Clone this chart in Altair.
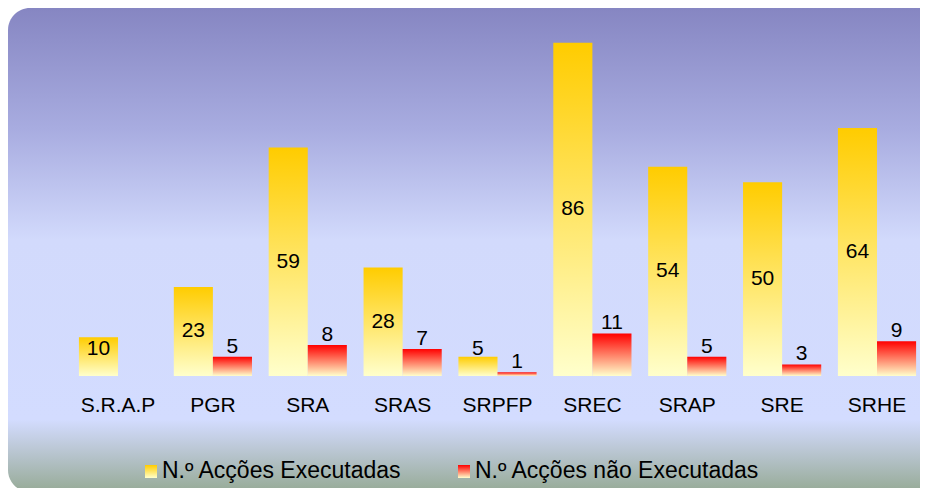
import altair as alt
import pandas as pd

categories = ["S.R.A.P", "PGR", "SRA", "SRAS", "SRPFP", "SREC", "SRAP", "SRE", "SRHE"]
series = ["N.º Acções Executadas", "N.º Acções não Executadas"]
executed = [10, 23, 59, 28, 5, 86, 54, 50, 64]
not_executed = [None, 5, 8, 7, 1, 11, 5, 3, 9]

rows = []
for c, a, b in zip(categories, executed, not_executed):
    if a is not None:
        rows.append({"cat": c, "series": series[0], "v": a})
    if b is not None:
        rows.append({"cat": c, "series": series[1], "v": b})
df = pd.DataFrame(rows)

FONT = "Liberation Sans"
W, H = 849, 368
PAD_L, PAD_B = 63, 114

def vgrad(stops):
    return alt.Gradient(
        gradient="linear", x1=0, x2=0, y1=0, y2=1,
        stops=[alt.GradientStop(offset=o, color=c) for o, c in stops],
    )

yellow = vgrad([(0, "#FFCC00"), (1, "#FFFFCC")])
red = vgrad([(0, "#FF0000"), (1, "#FFFFCC")])
bg = vgrad([
    (0.0, "#8686C2"),
    (0.25, "#A8ACE0"),
    (0.48, "#D2DAFC"),
    (0.85, "#D3DCFF"),
    (0.91, "#BCC8D6"),
    (1.0, "#96AA96"),
])

xenc = alt.X(
    "cat:N", sort=categories,
    scale=alt.Scale(paddingInner=0.176, paddingOuter=0.0623, align=0.67),
    axis=alt.Axis(title=None, labelAngle=0, domain=False, ticks=False, tickSize=0,
                  labelFont=FONT, labelFontSize=21, labelColor="#000000",
                  labelPadding=18, grid=False, zindex=2),
)
xoff = alt.XOffset("series:N", scale=alt.Scale(domain=series, paddingInner=0, paddingOuter=0))
yenc = alt.Y("v:Q", scale=alt.Scale(domain=[0, 95], nice=False), axis=None)

background = alt.Chart(pd.DataFrame({"a": [0]})).mark_rect(
    cornerRadius=22, fill=bg
).encode(
    x=alt.value(-PAD_L), x2=alt.value(W + 30), y=alt.value(0), y2=alt.value(H + PAD_B + 2)
)

base = alt.Chart(df)

bars_y = base.transform_filter(alt.datum.series == series[0]).mark_bar(fill=yellow).encode(
    x=xenc, xOffset=xoff, y=yenc
)
bars_r = base.transform_filter(alt.datum.series == series[1]).mark_bar(fill=red).encode(
    x=xenc, xOffset=xoff, y=yenc
)

lab_y = base.transform_filter(alt.datum.series == series[0]).transform_calculate(
    ly="max(datum.v / 2, 7)"
).mark_text(font=FONT, fontSize=21, color="#000000", baseline="middle").encode(
    x=xenc, xOffset=xoff, y=alt.Y("ly:Q", scale=alt.Scale(domain=[0, 95], nice=False), axis=None),
    text="v:Q",
)
lab_r = base.transform_filter(alt.datum.series == series[1]).mark_text(
    font=FONT, fontSize=21, color="#000000", baseline="alphabetic", dy=-4
).encode(
    x=xenc, xOffset=xoff, y=yenc, text="v:Q",
)

leg1 = pd.DataFrame({"s": [series[0]]})
leg2 = pd.DataFrame({"s": [series[1]]})
leg_sq1 = alt.Chart(leg1).mark_rect(fill=yellow).encode(
    x=alt.value(74), x2=alt.value(86), y=alt.value(457), y2=alt.value(470)
)
leg_tx1 = alt.Chart(leg1).mark_text(font=FONT, fontSize=23, color="#000000", align="left", baseline="alphabetic").encode(
    x=alt.value(91), y=alt.value(470), text="s:N"
)
leg_sq2 = alt.Chart(leg2).mark_rect(fill=red).encode(
    x=alt.value(387), x2=alt.value(399), y=alt.value(457), y2=alt.value(470)
)
leg_tx2 = alt.Chart(leg2).mark_text(font=FONT, fontSize=23, color="#000000", align="left", baseline="alphabetic").encode(
    x=alt.value(404), y=alt.value(470), text="s:N"
)

chart = alt.layer(
    background, bars_y, bars_r, lab_y, lab_r, leg_sq1, leg_tx1, leg_sq2, leg_tx2
).properties(
    width=W, height=H,
    padding={"left": PAD_L, "top": 0, "right": 0, "bottom": PAD_B},
    autosize="none",
    background="white",
).configure_view(strokeWidth=0)

chart.save("out.html", embed_options={"renderer": "svg", "actions": False})
